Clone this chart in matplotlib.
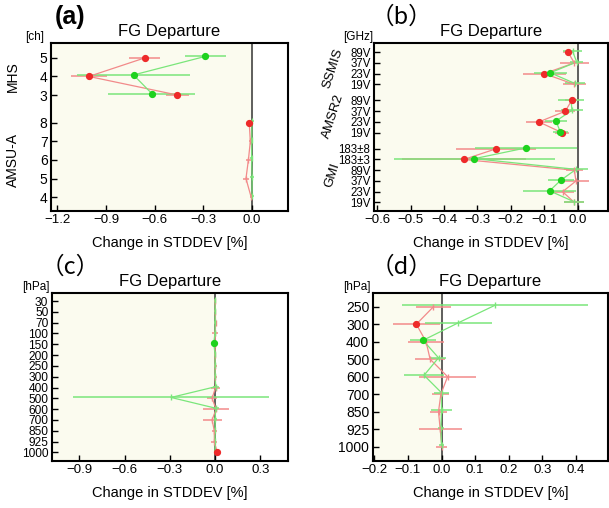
import matplotlib
matplotlib.use("Agg")
import matplotlib.pyplot as plt

plt.rcParams['font.family'] = ['Liberation Sans', 'DejaVu Sans']

# ---- panel (a): channels, grouped by instrument (bottom group first)
a_groups = ["AMSU-A", "MHS"]
a_labels = [["4", "5", "6", "7", "8"], ["3", "4", "5"]]
a_red = [[-0.003, -0.035, -0.02, -0.008, -0.015], [-0.46, -1.006, -0.66]]
a_red_err = [[0.01, 0.02, 0.015, 0.01, 0.012], [0.07, 0.11, 0.095]]
a_red_sig = [[False, False, False, False, True], [True, True, True]]
a_grn = [[0.002, 0.003, 0.0, 0.001, 0.002], [-0.617, -0.73, -0.286]]
a_grn_err = [[0.01, 0.012, 0.01, 0.01, 0.012], [0.27, 0.35, 0.128]]
a_grn_sig = [[False, False, False, False, False], [True, True, True]]

# ---- panel (b): frequencies, grouped by instrument (bottom group first)
b_groups = ["GMI", "AMSR2", "SSMIS"]
b_labels = [["19V", "23V", "37V", "89V", "183±3", "183±8"],
            ["19V", "23V", "37V", "89V"],
            ["19V", "23V", "37V", "89V"]]
b_red = [[-0.01, -0.045, -0.005, -0.01, -0.341, -0.244],
         [-0.047, -0.116, -0.037, -0.018],
         [-0.01, -0.1, -0.01, -0.029]]
b_red_err = [[0.03, 0.035, 0.038, 0.025, 0.186, 0.12],
             [0.022, 0.038, 0.03, 0.02],
             [0.035, 0.065, 0.044, 0.015]]
b_red_sig = [[False, False, False, False, True, True],
             [True, True, True, True],
             [False, True, False, True]]
b_grn = [[-0.012, -0.084, -0.05, -0.005, -0.309, -0.155],
         [-0.052, -0.065, -0.017, -0.02],
         [-0.008, -0.082, -0.003, -0.015]]
b_grn_err = [[0.03, 0.08, 0.04, 0.037, 0.24, 0.153],
             [0.022, 0.032, 0.033, 0.04],
             [0.03, 0.05, 0.02, 0.028]]
b_grn_sig = [[False, True, True, False, True, True],
             [True, True, False, False],
             [False, True, False, False]]

# ---- panel (c): pressure levels
c_levels = ["30", "50", "70", "100", "150", "200", "250", "300", "400",
            "500", "600", "700", "850", "925", "1000"]
c_red = [0.0, 0.002, 0.003, 0.002, 0.0, 0.0, 0.0, 0.0, 0.003,
         -0.02, 0.007, -0.02, -0.005, -0.005, 0.015]
c_red_err = [0.005, 0.005, 0.008, 0.02, 0.01, 0.008, 0.01, 0.01, 0.03,
             0.035, 0.085, 0.063, 0.015, 0.02, 0.01]
c_red_sig = [False] * 14 + [True]
c_grn = [0.0, 0.0, 0.0, 0.0, -0.009, 0.0, 0.0, 0.0, 0.005,
         -0.292, 0.005, 0.0, 0.0, 0.0, 0.0]
c_grn_err = [0.004, 0.004, 0.005, 0.006, 0.006, 0.005, 0.006, 0.006, 0.02,
             0.65, 0.02, 0.01, 0.008, 0.008, 0.006]
c_grn_sig = [False] * 4 + [True] + [False] * 10

# ---- panel (d): pressure levels
d_levels = ["250", "300", "400", "500", "600", "700", "850", "925", "1000"]
d_red = [-0.024, -0.075, -0.046, -0.034, 0.018, -0.002, -0.009, -0.004, 0.001]
d_red_err = [0.052, 0.07, 0.053, 0.045, 0.086, 0.025, 0.025, 0.064, 0.016]
d_red_sig = [False, True, False, False, False, False, False, False, False]
d_grn = [0.159, 0.05, -0.055, -0.009, -0.052, 0.0, 0.0, -0.002, 0.0]
d_grn_err = [0.277, 0.099, 0.04, 0.022, 0.059, 0.022, 0.032, 0.01, 0.008]
d_grn_sig = [False, False, True, False, False, False, False, False, False]

RED_DOT = "#ee2a2a"
RED_LINE = "#f28a8a"
GRN_DOT = "#1ed21e"
GRN_LINE = "#7ae67a"
CREAM = "#fbfbef"


def draw_series(ax, y, x, err, sig, dot, line):
    ax.plot(x, y, color=line, lw=0.9, zorder=3)
    ax.errorbar(x, y, xerr=err, fmt="none", ecolor=line, elinewidth=1.1,
                capsize=0, zorder=2)
    for xi, yi, s in zip(x, y, sig):
        if s:
            ax.plot(xi, yi, "o", color=dot, ms=4.2, mec=dot, zorder=5)
        else:
            ax.plot(xi, yi, "|", color=line, ms=5, mew=1.0, zorder=4)


def style(ax, xlim, xticks, xticklabels, title):
    ax.set_xlim(*xlim)
    ax.axvspan(xlim[0], 0, color=CREAM, zorder=0)
    ax.axvline(0, color="#444444", lw=1.2, zorder=1)
    ax.set_xticks(xticks)
    ax.set_xticklabels(xticklabels, fontsize=9.5)
    ax.set_xlabel("Change in STDDEV [%]", fontsize=10.5, labelpad=7)
    ax.set_title(title, fontsize=12, pad=5)
    ax.tick_params(direction="in", length=4, width=1, top=False, right=False,
                   pad=2.5)
    for sp in ax.spines.values():
        sp.set_linewidth(1.5)


def grouped_panel(ax, labels, red, red_err, red_sig, grn, grn_err, grn_sig, gap):
    ticks, ticklabels, centers = [], [], []
    start = 0.0
    for g in range(len(labels)):
        pos = [start + i for i in range(len(labels[g]))]
        draw_series(ax, pos, red[g], red_err[g], red_sig[g], RED_DOT, RED_LINE)
        draw_series(ax, [p + 0.08 for p in pos], grn[g], grn_err[g], grn_sig[g],
                    GRN_DOT, GRN_LINE)
        ticks += pos
        ticklabels += labels[g]
        centers.append((pos[0] + pos[-1]) / 2)
        start = pos[-1] + gap
    ax.set_yticks(ticks)
    return ticklabels, centers, ticks


fig = plt.figure(figsize=(6.09, 5.08), dpi=100)

# (a)
ax = fig.add_axes([0.0837, 0.5846, 0.389, 0.3307])
tl, centers, ticks = grouped_panel(ax, a_labels, a_red, a_red_err, a_red_sig,
                                   a_grn, a_grn_err, a_grn_sig, 1.5)
ax.set_yticklabels(tl, fontsize=10)
ax.set_ylim(ticks[0] - 0.75, ticks[-1] + 0.8)
style(ax, (-1.24, 0.224), [-1.2, -0.9, -0.6, -0.3, 0.0],
      ["−1.2", "−0.9", "−0.6", "−0.3", "0.0"], "FG Departure")
for name, c in zip(a_groups, centers):
    ax.text(-0.16, c, name, transform=ax.get_yaxis_transform(), rotation=90,
            ha="center", va="center", fontsize=10)
ax.text(-0.03, 1.0, "[ch]", transform=ax.transAxes, ha="right", va="bottom",
        fontsize=8.5)
fig.text(0.115, 0.967, "(a)", fontsize=18, fontweight="bold", ha="center",
         va="center")

# (b)
ax = fig.add_axes([0.614, 0.5846, 0.385, 0.3307])
tl, centers, ticks = grouped_panel(ax, b_labels, b_red, b_red_err, b_red_sig,
                                   b_grn, b_grn_err, b_grn_sig, 1.5)
ax.set_yticklabels(tl, fontsize=8.3)
ax.set_ylim(ticks[0] - 0.8, ticks[-1] + 0.85)
style(ax, (-0.61, 0.092), [-0.6, -0.5, -0.4, -0.3, -0.2, -0.1, 0.0],
      ["−0.6", "−0.5", "−0.4", "−0.3", "−0.2", "−0.1", "0.0"], "FG Departure")
for name, c in zip(b_groups, centers):
    ax.text(-0.175, c, name, transform=ax.get_yaxis_transform(), rotation=72,
            ha="center", va="center", fontsize=9.5)
ax.text(-0.005, 1.0, "[GHz]", transform=ax.transAxes, ha="right", va="bottom",
        fontsize=8.5)
fig.text(0.66, 0.967, "（b）", fontsize=17, ha="center", va="center",
         family=['Noto Sans CJK JP', 'DejaVu Sans'])

# (c)
ax = fig.add_axes([0.085, 0.0925, 0.3874, 0.3313])
pos = list(range(len(c_levels)))
draw_series(ax, pos, c_red, c_red_err, c_red_sig, RED_DOT, RED_LINE)
draw_series(ax, [p - 0.08 for p in pos], c_grn, c_grn_err, c_grn_sig,
            GRN_DOT, GRN_LINE)
ax.set_yticks(pos)
ax.set_yticklabels(c_levels, fontsize=8.6)
ax.set_ylim(pos[-1] + 0.8, pos[0] - 0.77)
style(ax, (-1.084, 0.482), [-0.9, -0.6, -0.3, 0.0, 0.3],
      ["−0.9", "−0.6", "−0.3", "0.0", "0.3"], "FG Departure")
ax.text(-0.01, 1.0, "[hPa]", transform=ax.transAxes, ha="right", va="bottom",
        fontsize=8.5)
fig.text(0.115, 0.474, "（c）", fontsize=17, ha="center", va="center",
         family=['Noto Sans CJK JP', 'DejaVu Sans'])

# (d)
ax = fig.add_axes([0.612, 0.0925, 0.387, 0.3313])
pos = list(range(len(d_levels)))
draw_series(ax, pos, d_red, d_red_err, d_red_sig, RED_DOT, RED_LINE)
draw_series(ax, [p - 0.08 for p in pos], d_grn, d_grn_err, d_grn_sig,
            GRN_DOT, GRN_LINE)
ax.set_yticks(pos)
ax.set_yticklabels(d_levels, fontsize=10)
ax.set_ylim(pos[-1] + 0.82, pos[0] - 0.8)
style(ax, (-0.205, 0.497), [-0.2, -0.1, 0.0, 0.1, 0.2, 0.3, 0.4],
      ["−0.2", "−0.1", "0.0", "0.1", "0.2", "0.3", "0.4"], "FG Departure")
ax.text(-0.01, 1.0, "[hPa]", transform=ax.transAxes, ha="right", va="bottom",
        fontsize=8.5)
fig.text(0.66, 0.474, "（d）", fontsize=17, ha="center", va="center",
         family=['Noto Sans CJK JP', 'DejaVu Sans'])

fig.savefig("out.png", dpi=100)
